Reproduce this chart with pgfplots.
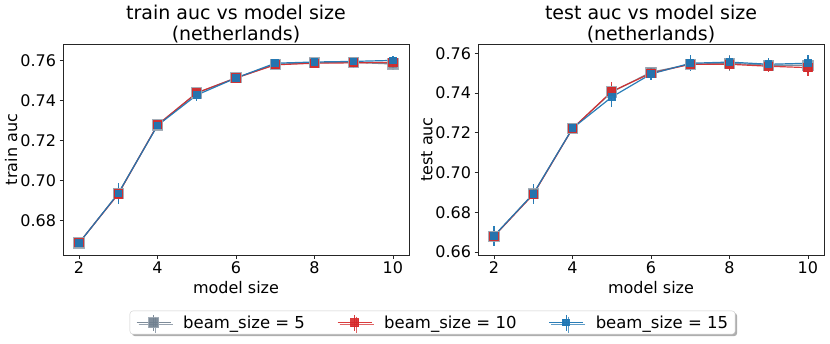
\documentclass[border=0pt]{standalone}
\usepackage{fontspec}
\setmainfont{DejaVu Sans}
\usepackage{pgfplots}
\pgfplotsset{compat=1.18}
\usetikzlibrary{shadows}

\definecolor{cgray}{HTML}{708090}
\definecolor{cred}{HTML}{D62728}
\definecolor{cblue}{HTML}{1F77B4}

\pgfplotstableread{
x   g5     eg5    r10    er10   b15    eb15
2   0.6687 0.0010 0.6688 0.0010 0.6687 0.0010
3   0.6935 0.0040 0.6932 0.0040 0.6935 0.0053
4   0.7277 0.0015 0.7278 0.0015 0.7275 0.0015
5   0.7437 0.0020 0.7438 0.0020 0.7427 0.0030
6   0.7513 0.0015 0.7512 0.0015 0.7512 0.0015
7   0.7580 0.0015 0.7578 0.0015 0.7586 0.0015
8   0.7588 0.0010 0.7586 0.0010 0.7592 0.0010
9   0.7590 0.0025 0.7588 0.0025 0.7595 0.0020
10  0.7582 0.0030 0.7590 0.0020 0.7600 0.0020
}\traindata

\pgfplotstableread{
x   g5     eg5    r10    er10   b15    eb15
2   0.6680 0.0030 0.6680 0.0030 0.6682 0.0050
3   0.6893 0.0040 0.6890 0.0040 0.6893 0.0050
4   0.7222 0.0020 0.7222 0.0020 0.7223 0.0020
5   0.7405 0.0040 0.7408 0.0050 0.7380 0.0050
6   0.7505 0.0020 0.7500 0.0020 0.7496 0.0030
7   0.7545 0.0030 0.7545 0.0030 0.7550 0.0040
8   0.7550 0.0040 0.7545 0.0030 0.7556 0.0030
9   0.7540 0.0030 0.7535 0.0030 0.7545 0.0030
10  0.7540 0.0040 0.7528 0.0040 0.7550 0.0040
}\testdata

\pgfplotsset{
  panel/.style={
    scale only axis, width=346pt, height=211pt,
    xmin=1.59, xmax=10.41, xtick={2,4,6,8,10},
    tick align=outside, xtick pos=bottom, ytick pos=left,
    major tick length=3.5pt,
    every tick/.style={black!85, line width=0.8pt},
    axis line style={black!85, line width=0.8pt},
    tick label style={font=\fontsize{16}{18}\selectfont},
    label style={font=\fontsize{16}{18}\selectfont},
    title style={font=\fontsize{19}{21}\selectfont, align=center, yshift=-9pt},
    /pgf/number format/assume math mode=true,
    yticklabel style={/pgf/number format/fixed, /pgf/number format/precision=2, /pgf/number format/fixed zerofill},
    xlabel={model size},
    ylabel style={yshift=-4pt},
    error bars/y dir=both, error bars/y explicit, error bars/error mark=none,
  },
  s5/.style={color=cgray, opacity=0.9, line width=1.2pt, mark=square*, mark size=5pt,
    mark options={solid, fill=cgray, draw=cgray!70}, error bars/error bar style={line width=1.2pt, cgray}},
  s10/.style={color=cred, opacity=0.9, line width=1.2pt, mark=square*, mark size=4pt,
    mark options={solid, fill=cred, draw=cred}, error bars/error bar style={line width=1.2pt, cred}},
  s15/.style={color=cblue, opacity=0.95, line width=1.2pt, mark=square*, mark size=3.2pt,
    mark options={solid, fill=cblue, draw=cblue}, error bars/error bar style={line width=1.2pt, cblue}},
}

\begin{document}
\begin{tikzpicture}
\path[use as bounding box] (0pt,0pt) rectangle (830pt,343pt);

\begin{axis}[panel, at={(63pt,88pt)}, anchor=south west,
  ymin=0.6627, ymax=0.7682, ytick={0.68,0.70,0.72,0.74,0.76},
  ylabel={train auc},
  title={train auc vs model size\\(netherlands)},
  legend columns=3,
  legend style={at={(1.068,-0.32)}, anchor=center, draw=black!20, rounded corners=3pt,
    fill=white, drop shadow={shadow xshift=2pt, shadow yshift=-2pt, fill=black!45, opacity=0.7},
    font=\fontsize{16.5}{18}\selectfont, inner xsep=6pt, inner ysep=3pt,
    nodes={inner sep=1pt},
    /tikz/every odd column/.append style={column sep=11pt}},
  legend image code/.code={
    \draw[#1, mark=none] (0pt,0pt) -- (34pt,0pt);
    \draw[#1, mark=none] (17pt,-8pt) -- (17pt,8pt);
    \draw[#1, only marks] plot coordinates {(17pt,0pt)};
  },
]
\addplot[s5] table[x=x, y=g5, y error=eg5] {\traindata};
\addlegendentry{beam\_size = 5\rule{31pt}{0pt}}
\addplot[s10] table[x=x, y=r10, y error=er10] {\traindata};
\addlegendentry{beam\_size = 10\rule{31pt}{0pt}}
\addplot[s15] table[x=x, y=b15, y error=eb15] {\traindata};
\addlegendentry{beam\_size = 15}
\end{axis}

\begin{axis}[panel, at={(478pt,88pt)}, anchor=south west,
  ymin=0.6585, ymax=0.7647, ytick={0.66,0.68,0.70,0.72,0.74,0.76},
  ylabel={test auc},
  title={test auc vs model size\\(netherlands)},
]
\addplot[s5] table[x=x, y=g5, y error=eg5] {\testdata};
\addplot[s10] table[x=x, y=r10, y error=er10] {\testdata};
\addplot[s15] table[x=x, y=b15, y error=eb15] {\testdata};
\end{axis}
\end{tikzpicture}
\end{document}
